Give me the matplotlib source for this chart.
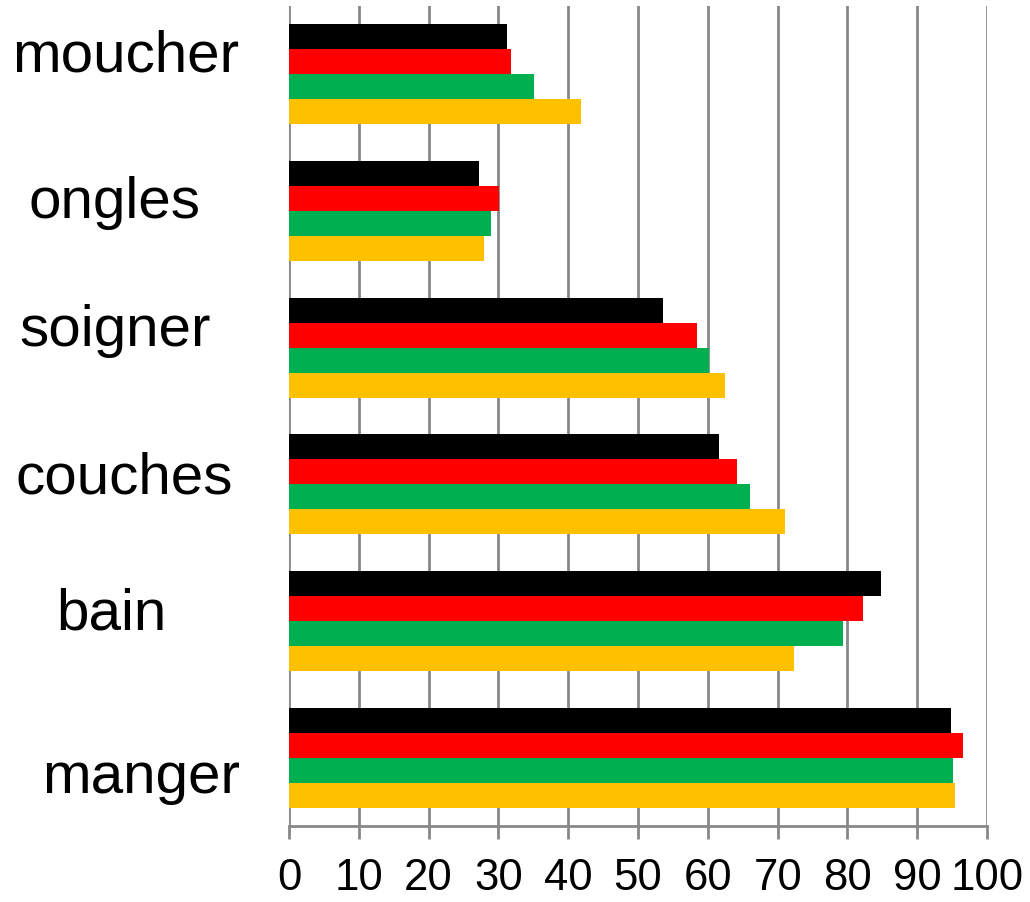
import numpy as np
import matplotlib.pyplot as plt
import matplotlib.transforms as mtransforms

# categories from bottom to top
categories = ['manger', 'bain', 'couches', 'soigner', 'ongles', 'moucher']

# series (top bar of each group first)
black_vals = [94.8, 84.8, 61.6, 53.6, 27.2, 31.2]
red_vals = [96.6, 82.2, 64.2, 58.5, 30.1, 31.8]
green_vals = [95.1, 79.4, 66.0, 60.2, 28.9, 35.1]
yellow_vals = [95.4, 72.3, 71.1, 62.5, 27.9, 41.8]

x_ticks = list(range(0, 101, 10))

plt.rcParams['font.family'] = ['Liberation Sans', 'DejaVu Sans']

fig = plt.figure(figsize=(10.3, 9.03), dpi=100)
ax = fig.add_axes([0.2806, 0.0842, 0.6777, 0.908])

y = np.arange(len(categories))
h = 0.183
series = [black_vals, red_vals, green_vals, yellow_vals]
colors = ['#000000', '#ff0000', '#00b050', '#ffc000']
for i, (vals, c) in enumerate(zip(series, colors)):
    ax.barh(y + (1.5 - i) * h, vals, height=h, color=c, zorder=3)

ax.set_xlim(0, 100)
ax.set_ylim(-0.5, len(categories) - 0.5)
ax.set_xticks(x_ticks)
ax.set_xticklabels([str(t) for t in x_ticks], fontsize=31.5)
ax.set_yticks(y)
ax.set_yticklabels(categories, fontsize=42, ha='center')

ax.grid(axis='x', color='#888888', linewidth=2, zorder=0)
for s in ['top', 'right', 'left']:
    ax.spines[s].set_visible(False)
ax.spines['bottom'].set_color('#888888')
ax.spines['bottom'].set_linewidth(2)
ax.tick_params(axis='x', direction='out', length=9, width=2, color='#888888', pad=13)
ax.tick_params(axis='y', length=0, pad=122)

# nudge category labels a little, like the original layout (pixels)
nudges = [(22, -13), (-8, 13), (5, 13), (-4, 24), (-5, 15), (6, 25)]
for lab, (dx, dy) in zip(ax.get_yticklabels(), nudges):
    off = mtransforms.ScaledTranslation(dx / 100, dy / 100, fig.dpi_scale_trans)
    lab.set_transform(lab.get_transform() + off)

fig.savefig('out.png', dpi=100)
